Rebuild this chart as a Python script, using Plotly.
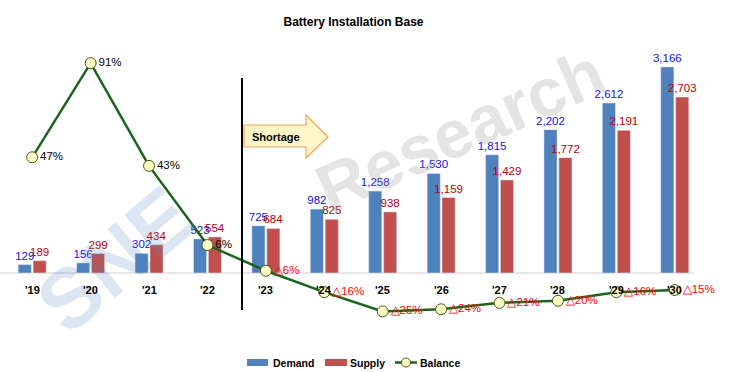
import plotly.graph_objects as go

years = ["'19", "'20", "'21", "'22", "'23", "'24", "'25", "'26", "'27", "'28", "'29", "'30"]
demand = [129, 156, 302, 523, 725, 982, 1258, 1530, 1815, 2202, 2612, 3166]
supply = [189, 299, 434, 554, 684, 825, 938, 1159, 1429, 1772, 2191, 2703]
balance = [47, 91, 43, 6, -6, -16, -25, -24, -21, -20, -16, -15]

W, H = 732, 372
L, R, T, B = 3.0, 704.0, 40.0, 320.0

DEMAND_C = "#4F81BD"
SUPPLY_C = "#C0504D"
LINE_C = "#1B651B"
MARK_FILL = "#FFFFC8"
MARK_LINE = "#4A5A1A"
FONT = "Liberation Sans, Arial, sans-serif"


def px(x):
    return (x - L) / (R - L)


def py(y):
    return (B - y) / (B - T)


bal_text = [f"{v}%" if v >= 0 else f"\u25b3{abs(v)}%" for v in balance]
bal_colors = ["#000000" if v >= 0 else "#FF0000" for v in balance]

fig = go.Figure()
fig.add_trace(go.Bar(
    name="Demand", x=years, y=demand, marker_color=DEMAND_C,
    text=[f"{v:,}" for v in demand], textposition="outside",
    textfont=dict(color="#1414E0", size=11.5, family=FONT),
    cliponaxis=False, constraintext="none", showlegend=False,
))
fig.add_trace(go.Bar(
    name="Supply", x=years, y=supply, marker_color=SUPPLY_C,
    text=[f"{v:,}" for v in supply], textposition="outside",
    textfont=dict(color="#B80000", size=11.5, family=FONT),
    cliponaxis=False, constraintext="none", showlegend=False,
))
fig.add_trace(go.Scatter(
    name="Balance", x=years, y=balance, yaxis="y2", mode="lines+markers+text",
    line=dict(color=LINE_C, width=2.5),
    marker=dict(size=11, color=MARK_FILL, line=dict(color=MARK_LINE, width=1)),
    text=bal_text, textposition="middle right",
    textfont=dict(color=bal_colors, size=11.5, family=FONT),
    cliponaxis=False, showlegend=False,
))

shapes = [
    # baseline
    dict(type="line", xref="paper", yref="y", x0=-0.004, x1=0.985, y0=0, y1=0,
         line=dict(color="#D0D0D0", width=1.2), layer="below"),
    # divider
    dict(type="line", xref="paper", yref="paper", x0=px(242), x1=px(242),
         y0=py(78), y1=py(310), line=dict(color="#000000", width=2)),
    # shortage arrow
    dict(type="path", xref="paper", yref="paper",
         path=(f"M {px(244)},{py(125)} L {px(306)},{py(125)} L {px(306)},{py(115)} "
               f"L {px(328)},{py(137)} L {px(306)},{py(158)} L {px(306)},{py(147)} "
               f"L {px(244)},{py(147)} Z"),
         fillcolor="#FFF6C8", line=dict(color="#F4A460", width=1.2)),
    # custom legend swatches
    dict(type="rect", xref="paper", yref="paper", x0=px(247), x1=px(268),
         y0=py(366), y1=py(359), fillcolor=DEMAND_C, line=dict(width=0)),
    dict(type="rect", xref="paper", yref="paper", x0=px(325), x1=px(347),
         y0=py(366), y1=py(359), fillcolor=SUPPLY_C, line=dict(width=0)),
    dict(type="line", xref="paper", yref="paper", x0=px(395), x1=px(417),
         y0=py(362.5), y1=py(362.5), line=dict(color=LINE_C, width=2.5)),
    dict(type="circle", xref="paper", yref="paper", x0=px(401.5), x1=px(410.5),
         y0=py(367), y1=py(358), fillcolor=MARK_FILL, line=dict(color=MARK_LINE, width=1)),
]

annotations = [
    dict(text="<b>Research</b>", xref="paper", yref="paper", x=px(460), y=py(130),
         xanchor="center", yanchor="middle",
         showarrow=False, textangle=-24, font=dict(size=68, color="rgba(150,150,150,0.26)",
                                                    family=FONT)),
    dict(text="<b>SNE</b>", xref="paper", yref="paper", x=px(115), y=py(260),
         xanchor="center", yanchor="middle",
         showarrow=False, textangle=-40, font=dict(size=84, color="rgba(79,129,189,0.2)",
                                                   family=FONT)),
    dict(text="<b>Shortage</b>", xref="paper", yref="paper", x=px(276), y=py(137),
         xanchor="center", yanchor="middle",
         showarrow=False, font=dict(size=11, color="#000000", family=FONT)),
]
for yr in years:
    annotations.append(dict(text=f"<b>{yr}</b>", x=yr, y=0, xref="x", yref="y",
                            yanchor="top", yshift=-9, showarrow=False,
                            font=dict(size=11, color="#000000", family=FONT)))

legend_items = [("Demand", 271), ("Supply", 348), ("Balance", 418)]
for name, x0 in legend_items:
    annotations.append(dict(text=f"<b>{name}</b>", xref="paper", yref="paper",
                            x=px(x0), y=py(362.5), xanchor="left", yanchor="middle",
                            showarrow=False,
                            font=dict(size=10.5, color="#000000", family=FONT)))

fig.update_layout(
    width=W, height=H,
    margin=dict(l=L, r=W - R, t=T, b=H - B, autoexpand=False),
    plot_bgcolor="white", paper_bgcolor="white",
    title=dict(text="<b>Battery Installation Base</b>", xref="paper", x=0.5, xanchor="center",
               y=1 - 22 / H, yanchor="middle",
               font=dict(size=12, color="#000000", family=FONT)),
    barmode="group", bargap=0.49, bargroupgap=0.12,
    xaxis=dict(range=[-0.5, 11.5], showticklabels=False, showline=False, showgrid=False,
               zeroline=False, ticks=""),
    yaxis=dict(range=[-722, 3579], visible=False),
    yaxis2=dict(range=[-29, 101.8], visible=False, overlaying="y"),
    shapes=shapes, annotations=annotations,
    showlegend=False,
)

fig.write_html("out.html", config={"displayModeBar": False},
               post_script="document.body.style.margin='0';")
